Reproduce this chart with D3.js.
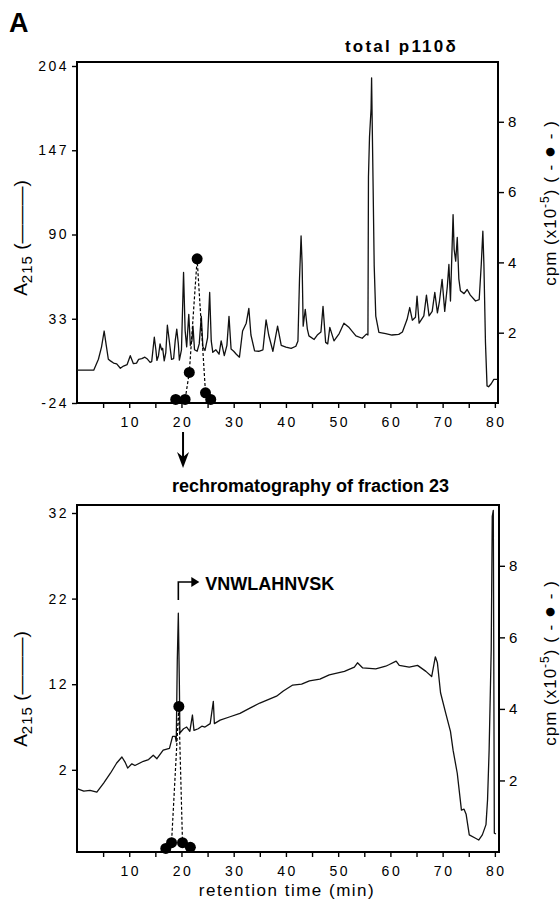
<html>
  <head>
    <style>
      body { margin: 0; background: #fff; }
      text { font-family: 'Liberation Sans', Arial, sans-serif; fill: #000; }
    </style>
  </head>
  <body>
    <script src="https://d3js.org/d3.v7.min.js"></script>
    <script>
      // ---- data ----
      // top: total p110 delta, A215 trace
      const topTime = [0, 3.2, 4.1, 4.7, 5.2, 5.6, 6.0, 6.4, 7.0, 7.6, 8.3, 8.9, 9.6, 10.2, 10.8, 11.4, 11.8, 12.4, 13.0, 13.4,
        14.0, 14.3, 14.8, 15.1, 15.3, 15.6, 15.9, 16.2, 16.4, 16.7, 17.0, 17.3, 17.6, 18.1, 18.5, 18.8, 19.1, 19.4, 19.6, 20.0,
        20.4, 20.7, 21.0, 21.4, 21.7, 22.0, 22.2, 22.5, 23.0, 23.4, 23.8, 24.1, 24.5, 25.0, 25.4, 25.7, 26.0, 26.6, 27.2, 27.6,
        28.2, 28.7, 29.1, 29.5, 30.0, 30.5, 31.1, 31.7, 32.4, 32.9, 33.3, 34.0, 34.8, 35.6, 36.2, 36.7, 37.5, 38.4, 39.1, 40.0,
        41.0, 41.9, 42.3, 42.6, 42.9, 43.1, 43.3, 43.7, 44.1, 44.4, 45.4, 46.0, 46.7, 47.1, 47.6, 48.0, 48.4, 49.2, 50.2, 51.1,
        52.1, 53.4, 54.6, 55.4, 55.7, 55.8, 56.0, 56.3, 56.4, 56.5, 56.7, 56.9, 57.2, 57.8, 59.1, 60.3, 61.6, 62.3, 63.2, 63.7,
        64.2, 64.8, 65.1, 65.5, 66.4, 66.9, 67.4, 68.0, 68.5, 69.0, 69.4, 69.9, 70.4, 70.9, 71.2, 71.5, 72.0, 72.2, 72.5, 72.8,
        73.1, 73.4, 74.1, 74.7, 75.3, 76.3, 77.0, 77.4, 77.7, 77.9, 78.2, 78.5, 78.8, 79.3, 79.8, 80.5];
      const topA215 = [-1.8, -1.8, 5.6, 14, 24.7, 15, 5.6, 4.5, 3, 2.5, -0.5, 1, 2, 8, 2.6, 3, 5.5, 6, 7, 6,
        3.5, 4, 20.5, 12, 4.8, 8, 16, 12, 13, 4.5, 10, 28.6, 20, 5.5, 6, 18, 26, 16, 5, 12,
        64.3, 25, 14, 36, 15, 18, 28, 12, 11, 16, 34.6, 14, 11.5, 20, 50.8, 18, 10.3, 12, 9, 18,
        8, 15, 34.6, 12.5, 11, 9, 7, 24.7, 30, 40, 22, 11.2, 11, 12, 32.2, 22, 11, 28, 15, 13.8,
        13, 14.4, 18, 60, 89, 70, 28, 39.4, 26, 21.4, 19, 22, 24, 41.4, 17, 16, 27.2, 18, 23, 30,
        27, 21.4, 19.8, 22.6, 22, 129, 156, 175, 196, 170, 120, 68.6, 34.8, 23.8, 23, 22, 22.4, 24, 32.6, 40.6,
        32, 34, 48.3, 30, 35, 49, 35, 38, 50.8, 37, 45, 59.6, 38, 55, 69.7, 45, 103.5, 80, 72, 88,
        60, 52, 50, 52.8, 49, 45, 46, 70, 92.2, 70, 17, -12.4, -13, -11, -8, -8];
      // top: radioactivity fractions
      const topFracTime = [18.9, 20.7, 21.5, 23.0, 24.6, 25.6];
      const topCpm = [0.1, 0.1, 0.87, 4.1, 0.29, 0.1];

      // bottom: rechromatography of fraction 23
      const botTime = [0, 1.3, 2.5, 3.8, 5.1, 6.4, 7.6, 8.6, 9.2, 9.7, 10.5, 11.1, 12.7, 13.7, 14.6, 15.3, 16.5, 17.7, 18.3, 18.8,
        19.0, 19.2, 19.4, 19.6, 19.7, 20.4, 21.0, 21.6, 22.1, 22.4, 23.2, 23.9, 24.5, 25.5, 26.1, 26.3, 27.4, 29.3, 31.2, 33.1,
        35.0, 36.6, 38.2, 39.5, 41.3, 43.0, 44.5, 46.5, 48.3, 51.2, 53.1, 53.7, 54.7, 57.2, 59.1, 59.8, 61.1, 61.7, 63.6, 65.2,
        66.8, 67.9, 68.6, 69.0, 69.6, 70.6, 71.5, 72.0, 72.8, 73.6, 74.1, 74.5, 75.1, 76.3, 76.9, 77.6, 78.3, 78.6, 78.9, 79.3,
        79.5, 79.7, 79.9, 80.2];
      const botA215 = [-0.2, -0.5, -0.4, -0.6, 0.45, 1.6, 2.8, 3.5, 2.9, 2.2, 2.7, 2.5, 3.0, 3.2, 3.7, 3.3, 4.3, 4.5, 5.9, 5.9,
        5.3, 14.8, 20.3, 12, 6.3, 6.8, 7.0, 6.5, 8.4, 6.6, 6.8, 7.1, 7.0, 7.4, 10, 7.4, 7.8, 8.2, 8.6, 9.2,
        9.8, 10.2, 10.6, 11.2, 11.9, 12.0, 12.4, 12.6, 13.1, 13.5, 14.0, 14.5, 13.9, 13.8, 14.1, 14.3, 14.7, 14.2, 14.0, 14.2,
        13.5, 12.9, 15.2, 14.5, 11.0, 8.6, 6.5, 4.3, 1.6, -2.7, -2.6, -3.2, -5.6, -6.0, -6.2, -5.6, -4.4, -1.5, 4.3, 16,
        31.6, 32.3, -5.4, -5.5];
      const botFracTime = [17.0, 18.1, 19.5, 20.2, 21.7];
      const botCpm = [0.1, 0.26, 4.07, 0.26, 0.13];

      // ticks
      const xLabelTicks = [10, 20, 30, 40, 50, 60, 70, 80];
      const xMinorTicks = [5, 15, 25, 35, 45, 55, 65, 75];
      const topLeftTicks = [204, 147, 90, 33, -24];
      const botLeftTicks = [32, 22, 12, 2];
      const cpmTicks = [2, 4, 6, 8];
      const peptide = 'VNWLAHNVSK';
      const peptideTime = 19.4;
      const fractionTime = 20.3;

      const svg = d3.select('body').append('svg').attr('width', 560).attr('height', 913);

      const x = d3.scaleLinear().domain([0, 80.6]).range([77, 498]);

      function panel(o) {
        const g = svg.append('g');
        const yL = d3.scaleLinear().domain(o.leftDomain).range([o.bottom, o.tickTop]);
        const yR = d3.scaleLinear().domain([0, 9.7]).range([o.bottom, o.top]);

        // x axis ticks
        const ax = g.append('g').attr('transform', `translate(0,${o.bottom})`)
          .call(d3.axisBottom(x).tickValues(xLabelTicks.concat(xMinorTicks)).tickSize(5).tickPadding(9)
            .tickFormat((d) => (xLabelTicks.includes(d) ? String(d) : '')));
        ax.select('.domain').remove();
        ax.selectAll('line').attr('stroke-width', 1.4);
        ax.selectAll('text').attr('font-size', 14).attr('letter-spacing', 2.5).attr('dx', 1);

        // plain hyphen for negatives, as in the figure
        const al = g.append('g').attr('transform', 'translate(77,0)')
          .call(d3.axisLeft(yL).tickValues(o.leftTicks).tickSize(5).tickPadding(3).tickFormat((d) => String(d)));
        al.select('.domain').remove();
        al.selectAll('line').attr('stroke-width', 1.4);
        al.selectAll('text').attr('font-size', 14).attr('letter-spacing', 2.5);

        const ar = g.append('g').attr('transform', `translate(${o.right},0)`)
          .call(d3.axisRight(yR).tickValues(cpmTicks).tickSize(6).tickPadding(4));
        ar.select('.domain').remove();
        ar.selectAll('line').attr('stroke-width', 1.4);
        ar.selectAll('text').attr('font-size', 15);

        // frame
        g.append('rect').attr('x', 77).attr('y', o.top).attr('width', o.right - 77).attr('height', o.bottom - o.top)
          .attr('fill', 'none').attr('stroke', '#000').attr('stroke-width', 2);

        // A215 trace
        g.append('path').datum(d3.zip(o.time, o.a215))
          .attr('d', d3.line().x((d) => x(d[0])).y((d) => yL(d[1])))
          .attr('fill', 'none').attr('stroke', '#111').attr('stroke-width', 1.3).attr('stroke-linejoin', 'round');

        // cpm fractions
        const pts = d3.zip(o.fracTime, o.cpm);
        g.append('path').datum(pts)
          .attr('d', d3.line().x((d) => x(d[0])).y((d) => yR(d[1])))
          .attr('fill', 'none').attr('stroke', '#000').attr('stroke-width', 1.2).attr('stroke-dasharray', '3,2');
        g.selectAll('circle.f').data(pts).enter().append('circle')
          .attr('cx', (d) => x(d[0])).attr('cy', (d) => yR(d[1])).attr('r', 5.5).attr('fill', '#000');

        // axis titles
        const lt = g.append('text').attr('transform', `translate(27,${o.leftLabelY}) rotate(-90)`)
          .attr('text-anchor', 'middle').attr('font-size', 19);
        lt.append('tspan').text('A');
        lt.append('tspan').attr('font-size', 15).attr('dy', 5).attr('letter-spacing', 1).text('215');
        lt.append('tspan').attr('dy', -5).text(' (');
        lt.append('tspan').text('———');
        lt.append('tspan').text(')');

        const rt = g.append('text').attr('transform', `translate(556,${o.rightLabelY}) rotate(-90)`)
          .attr('text-anchor', 'middle').attr('font-size', 17).attr('letter-spacing', 1);
        rt.append('tspan').text('cpm (x10');
        rt.append('tspan').attr('font-size', 12).attr('dy', -7).text('-5');
        rt.append('tspan').attr('dy', 7).text(') ( - ');
        rt.append('tspan').attr('font-size', 20).text('●');
        rt.append('tspan').text(' - )');

        return { yL, yR };
      }

      panel({
        top: 62, tickTop: 66, bottom: 403, right: 498, leftDomain: [-24, 204], leftTicks: topLeftTicks,
        time: topTime, a215: topA215, fracTime: topFracTime, cpm: topCpm, leftLabelY: 238, rightLabelY: 203,
      });
      panel({
        top: 505, tickTop: 513, bottom: 852, right: 499, leftDomain: [-7.6, 32], leftTicks: botLeftTicks,
        time: botTime, a215: botA215, fracTime: botFracTime, cpm: botCpm, leftLabelY: 689, rightLabelY: 663,
      });

      // titles
      svg.append('text').attr('x', 9).attr('y', 32).attr('font-size', 27).attr('font-weight', 'bold').text('A');
      svg.append('text').attr('x', 345).attr('y', 52).attr('font-size', 17).attr('font-weight', 'bold')
        .attr('letter-spacing', 2.2).text('total p110δ');
      svg.append('text').attr('x', 172).attr('y', 492).attr('font-size', 18).attr('font-weight', 'bold')
        .text('rechromatography of fraction 23');
      svg.append('text').attr('x', 287).attr('y', 896).attr('text-anchor', 'middle').attr('font-size', 17)
        .attr('letter-spacing', 1.5).text('retention time (min)');

      // arrow between panels
      const ax0 = x(fractionTime);
      svg.append('line').attr('x1', ax0).attr('x2', ax0).attr('y1', 432).attr('y2', 458)
        .attr('stroke', '#000').attr('stroke-width', 2);
      svg.append('path').attr('d', `M${ax0 - 6},452 L${ax0},468 L${ax0 + 6},452 L${ax0},457 Z`).attr('fill', '#000');

      // peptide annotation
      const px = x(peptideTime);
      svg.append('path').attr('d', `M${px},600 V582 H${px + 17}`).attr('fill', 'none')
        .attr('stroke', '#000').attr('stroke-width', 1.6);
      svg.append('path').attr('d', `M${px + 13},577 L${px + 21},582 L${px + 13},587 Z`).attr('fill', '#000');
      svg.append('text').attr('x', px + 27).attr('y', 590).attr('font-size', 18).attr('font-weight', 'bold')
        .text(peptide);
    </script>
  </body>
</html>
